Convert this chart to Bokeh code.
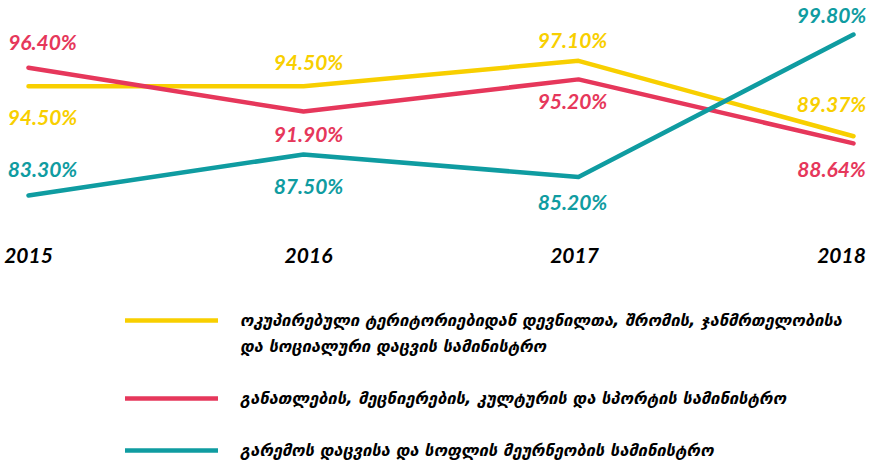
from bokeh.plotting import figure
from bokeh.models import Range1d, Legend, LegendItem, ColumnDataSource
from bokeh.embed import file_html
from bokeh.resources import INLINE
from bokeh.core.properties import value

# ---- data ----
years = [2015, 2016, 2017, 2018]
year_labels = ["2015", "2016", "2017", "2018"]
occupied = [94.50, 94.50, 97.10, 89.37]
education = [96.40, 91.90, 95.20, 88.64]
environment = [83.30, 87.50, 85.20, 99.80]
name_occupied_1 = "ოკუპირებული ტერიტორიებიდან დევნილთა, შრომის, ჯანმრთელობისა"
name_occupied_2 = "და სოციალური დაცვის სამინისტრო"
name_education = "განათლების, მეცნიერების, კულტურის და სპორტის სამინისტრო"
name_environment = "გარემოს დაცვისა და სოფლის მეურნეობის სამინისტრო"
series_values = [occupied, education, environment]

# ---- style ----
colors = ["#F8CF00", "#E6375B", "#0F9CA1"]
label_dx = [14, 5, -6, -22]
label_dy = [
    [30, -25, -21, -33],
    [-26, 22, 21, 25],
    [-27, 31, 25, -20],
]
year_dx = [0, 5, -4, -12]
NUM_FONT = "Lato"
GEO_FONT = "DejaVu Sans"

W, H = 866, 460
p = figure(width=W, height=H, output_backend="svg", toolbar_location=None,
           min_border=0, min_border_left=0, min_border_right=0,
           min_border_top=0, min_border_bottom=0,
           x_range=Range1d(2014.8982, 2018.0473), y_range=Range1d(56.142, 103.284))
p.xaxis.visible = False
p.yaxis.visible = False
p.grid.visible = False
p.outline_line_color = None
p.background_fill_color = "white"
p.border_fill_color = "white"

renderers = []
for vals, col, dys in zip(series_values, colors, label_dy):
    r = p.line(years, vals, line_color=col, line_width=4.5, line_cap="round", line_join="round")
    renderers.append(r)
    src = ColumnDataSource(dict(
        x=years, y=vals,
        t=["%.2f%%" % v for v in vals],
        xo=label_dx, yo=dys,
    ))
    p.text(x="x", y="y", text="t", x_offset="xo", y_offset="yo", source=src,
           text_color=col, text_font=value(NUM_FONT), text_font_style="bold italic",
           text_font_size="21px", text_align="center", text_baseline="middle")

# year labels below the lines
ysrc = ColumnDataSource(dict(x=years, y=[min(environment)] * 4, t=year_labels, xo=year_dx))
p.text(x="x", y="y", text="t", x_offset="xo", y_offset=60, source=ysrc,
       text_color="black", text_font=value(NUM_FONT), text_font_style="bold italic",
       text_font_size="21px", text_align="center", text_baseline="middle")

items = [
    LegendItem(label=name_occupied_1, renderers=[renderers[0]]),
    LegendItem(label=name_occupied_2, renderers=[]),
    LegendItem(label=" ", renderers=[]),
    LegendItem(label=name_education, renderers=[renderers[1]]),
    LegendItem(label=" ", renderers=[]),
    LegendItem(label=name_environment, renderers=[renderers[2]]),
]
legend = Legend(items=items, location=(125, 0), orientation="vertical",
                glyph_width=93, glyph_height=20, label_standoff=22, spacing=6,
                padding=0, margin=0, border_line_color=None, background_fill_alpha=0,
                label_height=20,
                label_text_font=GEO_FONT, label_text_font_style="bold italic",
                label_text_font_size="16.5px", label_text_line_height=1.2,
                label_text_color="black")
p.add_layout(legend, "center")

open("out.html", "w").write(file_html(p, INLINE))
